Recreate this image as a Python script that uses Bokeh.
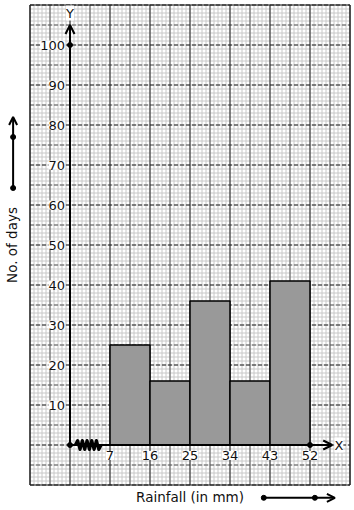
import numpy as np
from bokeh.plotting import figure
from bokeh.models import (Range1d, ColumnDataSource, LabelSet, Label, Arrow, OpenHead)
from bokeh.core.properties import value
from bokeh.embed import file_html
from bokeh.resources import INLINE

# ---------------- data ----------------
bin_edges = [7, 16, 25, 34, 43, 52]
days = [25, 16, 36, 16, 41]
y_ticks = [10, 20, 30, 40, 50, 60, 70, 80, 90, 100]
x_ticks = [7, 16, 25, 34, 43, 52]
x_tick_labels = ["7", "16", "25", "34", "43", "52"]
x_title = "Rainfall (in mm)"
y_title = "No. of days"

FONT = "DejaVu Sans"
X0 = -2                      # origin of the broken x-axis (mm units)
XMIN, XMAX = -11, 61         # graph-paper extent
YMIN, YMAX = -10, 110

W, H = 354, 510
PX_X = 40 / 9.0              # pixels per mm
PX_Y = 4.0                   # pixels per day
x_lo = XMIN - 29.5 / PX_X
y_hi = 111.125
p = figure(width=W, height=H,
           x_range=Range1d(x_lo, x_lo + W / PX_X), y_range=Range1d(y_hi - H / PX_Y, y_hi),
           x_axis_location=None, y_axis_location=None, toolbar_location=None,
           output_backend="svg", min_border=0)
p.background_fill_color = "white"
p.border_fill_color = "white"
p.outline_line_color = None
p.grid.visible = False

# ---------------- graph paper ----------------
minor_x = [round(XMIN + 0.9 * k, 3) for k in range(81)]
minor_y = list(range(YMIN, YMAX + 1))
mid_x = [float(v) for v in np.arange(XMIN + 4.5, XMAX, 9)]
mid_y = list(range(YMIN + 5, YMAX, 10))
major_x = list(range(XMIN, XMAX + 1, 9))
major_y = list(range(YMIN, YMAX + 1, 10))

def vlines(xs, color, width, dash="solid"):
    p.segment(x0=xs, y0=[YMIN] * len(xs), x1=xs, y1=[YMAX] * len(xs),
              line_color=color, line_width=width, line_dash=dash)

def hlines(ys, color, width, dash="solid"):
    p.segment(x0=[XMIN] * len(ys), y0=ys, x1=[XMAX] * len(ys), y1=ys,
              line_color=color, line_width=width, line_dash=dash)

vlines(minor_x, "#c8c8c8", 1)
hlines(minor_y, "#c8c8c8", 1)
vlines(mid_x, "#5a5a5a", 1)
hlines(mid_y, "#5a5a5a", 1, "4 2")
vlines(major_x, "#1e1e1e", 1)
hlines(major_y, "#1e1e1e", 1, "4 2")
p.quad(left=[XMIN], right=[XMAX], bottom=[YMIN], top=[YMAX],
       fill_color=None, line_color="#1e1e1e", line_width=1)

# ---------------- histogram ----------------
p.quad(left=bin_edges[:-1], right=bin_edges[1:], bottom=0, top=days,
       fill_color="#999999", line_color="black", line_width=1.5)

# ---------------- axes ----------------
p.add_layout(Arrow(x_start=X0, y_start=0, x_end=X0, y_end=105, line_width=2,
                   line_color="black",
                   end=OpenHead(size=9, line_width=2, line_color="black")))
p.add_layout(Arrow(x_start=X0, y_start=0, x_end=57, y_end=0, line_width=2,
                   line_color="black",
                   end=OpenHead(size=9, line_width=2, line_color="black")))

# kink (zigzag) on the x-axis
n_z = 12
zx = [float(v) for v in np.linspace(-0.8, 5.0, n_z)]
zy = [0.0] + [1.1 if i % 2 else -1.1 for i in range(1, n_z - 1)] + [0.0]
p.line(zx, zy, line_width=3.2, line_color="black", line_join="round")

p.scatter([X0, X0, 52], [0, 100, 0], size=5, color="black")

# tick labels
ysrc = ColumnDataSource(dict(x=[X0] * len(y_ticks), y=y_ticks, t=[str(v) for v in y_ticks]))
p.add_layout(LabelSet(x="x", y="y", text="t", source=ysrc, x_offset=-5,
                      text_align="right", text_baseline="middle",
                      text_font=value(FONT), text_font_size="13px", text_color="#111111",
                      background_fill_color="white"))
xsrc = ColumnDataSource(dict(x=x_ticks, y=[0] * len(x_ticks), t=x_tick_labels))
p.add_layout(LabelSet(x="x", y="y", text="t", source=xsrc, y_offset=-6,
                      text_align="center", text_baseline="top",
                      text_font=value(FONT), text_font_size="13px", text_color="#111111",
                      background_fill_color="white"))

p.add_layout(Label(x=X0, y=108, text="Y", text_align="center", text_baseline="middle",
                   text_font=FONT, text_font_size="13px", text_color="#111111",
                   background_fill_color="white"))
p.add_layout(Label(x=58.5, y=0, text="X", text_align="center", text_baseline="middle",
                   text_font=FONT, text_font_size="13px", text_color="#111111",
                   background_fill_color="white"))

# ---------------- axis titles with arrows (outside the paper) ----------------
p.text(x=[-15.0], y=[50], text=[y_title], angle=np.pi / 2,
       text_align="center", text_baseline="middle",
       text_font=value(FONT), text_font_size=value("13.5px"), text_color="#111111")
p.text(x=[25], y=[-13], text=[x_title],
       text_align="center", text_baseline="middle",
       text_font=value(FONT), text_font_size=value("13.5px"), text_color="#111111")

p.add_layout(Arrow(x_start=-14.8, y_start=64.25, x_end=-14.8, y_end=82, line_width=2,
                   line_color="black",
                   end=OpenHead(size=8, line_width=2, line_color="black")))
p.add_layout(Arrow(x_start=41.6, y_start=-13.2, x_end=57.6, y_end=-13.2, line_width=2,
                   line_color="black",
                   end=OpenHead(size=8, line_width=2, line_color="black")))
p.scatter([-14.8, -14.8, 41.6, 53.1], [64.25, 77, -13.2, -13.2], size=5, color="black")

open("out.html", "w").write(file_html(p, INLINE))
